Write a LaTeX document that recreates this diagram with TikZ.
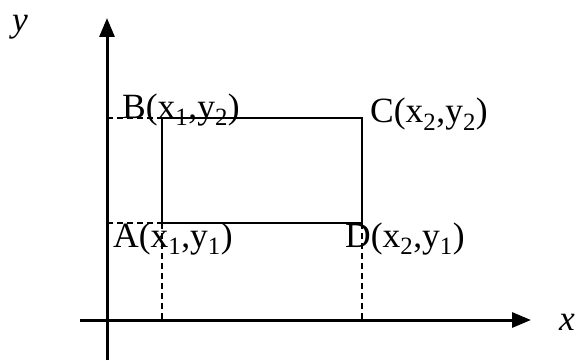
\documentclass[tikz,border=0pt]{standalone}
\usepackage{fontspec}
\setmainfont{Liberation Serif}
\usetikzlibrary{arrows.meta,positioning}

\begin{document}
\begin{tikzpicture}[x=1pt,y=-1pt,
	axis/.style={line width=3pt,-{Triangle[length=19pt,width=15pt]}},
	box/.style={line width=1.5pt},
	guide/.style={line width=1.3pt,dash pattern=on 6pt off 4pt},
	lbl/.style={font=\fontsize{35.5}{40}\selectfont,inner sep=0pt}]
	\useasboundingbox (0,0) rectangle (579,361);
	% axes
	\coordinate (xs) at (80,320);
	\coordinate (xe) at (531,320);
	\coordinate (ys) at (107,360);
	\coordinate (ye) at (107,18);
	\draw[axis] (xs) -- (xe);
	\draw[axis] (ys) -- (ye);
	% corners of the rectangle
	\coordinate (A) at (162,223);
	\coordinate (B) at (162,118);
	\coordinate (C) at (362,118);
	\coordinate (D) at (362,223);
	% feet on the axes
	\coordinate (Ay) at (107,223);
	\coordinate (By) at (107,118);
	\coordinate (Ax) at (162,320);
	\coordinate (Dx) at (362,320);
	% dashed guides
	\draw[guide] (By) -- (B);
	\draw[guide] (Ay) -- (A);
	\draw[guide] (A) -- (Ax);
	\draw[guide] (D) -- (Dx);
	% rectangle
	\draw[box] (A) rectangle (C);
	% labels
	\node[lbl,anchor=base west] (lB) at (122,118) {B(x\textsubscript{1},y\textsubscript{2})};
	\node[lbl,anchor=base west] (lC) at (370,123) {C(x\textsubscript{2},y\textsubscript{2})};
	\node[lbl,anchor=base west] (lA) at (113,247) {A(x\textsubscript{1},y\textsubscript{1})};
	\node[lbl,anchor=base west] (lD) at (345,247) {D(x\textsubscript{2},y\textsubscript{1})};
	\node[lbl] (ly) at (20,27) {\textit{y}};
	\node[lbl] (lx) at (567,322) {\textit{x}};
\end{tikzpicture}
\end{document}
